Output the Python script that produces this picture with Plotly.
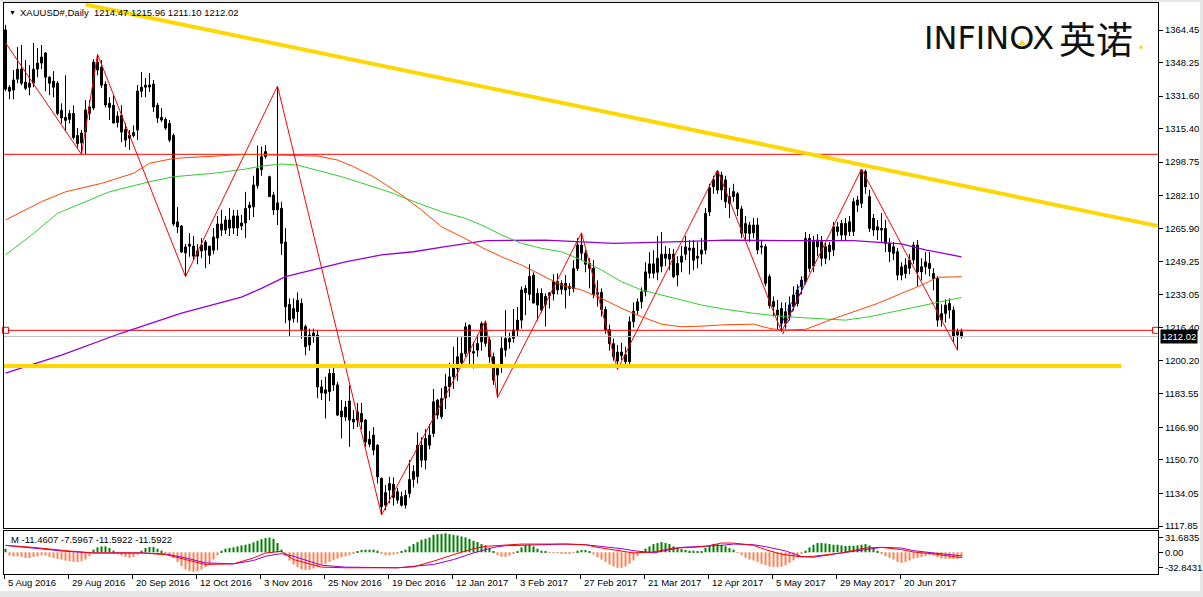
import plotly.graph_objects as go

# ---------------- data ----------------
tick_idx = [0, 16, 32, 48, 64, 80, 96, 112, 128, 144, 160, 176, 192, 208, 224]
tick_labels = ["5 Aug 2016", "29 Aug 2016", "20 Sep 2016", "12 Oct 2016", "3 Nov 2016",
               "25 Nov 2016", "19 Dec 2016", "12 Jan 2017", "3 Feb 2017", "27 Feb 2017",
               "21 Mar 2017", "12 Apr 2017", "5 May 2017", "29 May 2017", "20 Jun 2017"]
price_ticks = [1364.45, 1348.25, 1331.60, 1315.40, 1298.75, 1282.10, 1265.90, 1249.25,
               1233.05, 1216.40, 1200.20, 1183.55, 1166.90, 1150.70, 1134.05, 1117.85]
macd_ticks = [31.6835, 0.0, -32.8431]
macd_tick_text = ["31.6835", "0.00", "-32.8431"]

opens = [
    1364.5, 1336.0, 1334.6, 1340.0, 1345.0, 1338.5, 1336.0, 1338.0, 1345.0, 1348.0,
    1353.0, 1341.0, 1339.0, 1338.0, 1324.5, 1321.0, 1320.0, 1323.0, 1312.0, 1308.3,
    1313.7, 1323.0, 1325.7, 1348.5, 1346.0, 1337.5, 1328.0, 1327.0, 1318.5, 1322.0,
    1315.0, 1310.7, 1312.0, 1314.7, 1334.0, 1337.0, 1337.1, 1337.6, 1327.0, 1321.0,
    1320.0, 1318.0, 1312.0, 1269.0, 1267.0, 1253.6, 1257.0, 1257.0, 1252.0, 1254.6,
    1259.0, 1252.4, 1255.0, 1261.0, 1268.0, 1265.0, 1270.0, 1266.0, 1272.0, 1267.0,
    1268.5, 1276.0, 1276.5, 1287.0, 1295.0, 1301.5, 1291.5, 1282.4, 1275.0, 1275.8,
    1259.0, 1228.0, 1221.0, 1230.0, 1228.5, 1217.0, 1207.8, 1213.8, 1212.8, 1187.0,
    1185.5, 1184.6, 1193.7, 1188.0, 1175.0, 1172.0, 1180.0, 1171.0, 1170.5, 1173.8,
    1170.5, 1158.5, 1163.0, 1158.0, 1141.5, 1128.2, 1135.7, 1138.6, 1130.7, 1132.4,
    1128.2, 1134.0, 1141.0, 1142.4, 1158.0, 1150.6, 1158.0, 1163.8, 1180.4, 1172.2,
    1181.6, 1187.0, 1192.0, 1196.0, 1199.0, 1203.5, 1217.7, 1203.8, 1205.3, 1209.4,
    1218.6, 1210.3, 1202.0, 1192.9, 1197.0, 1205.3, 1211.1, 1211.1, 1215.3, 1220.2,
    1233.8, 1233.0, 1242.5, 1227.7, 1233.5, 1228.0, 1232.4, 1233.3, 1239.3, 1235.5,
    1238.5, 1237.0, 1235.8, 1245.8, 1257.5, 1253.5, 1248.5, 1246.0, 1233.0, 1234.0,
    1225.5, 1215.5, 1208.5, 1199.8, 1204.3, 1203.0, 1199.5, 1219.4, 1225.0, 1229.3,
    1234.3, 1243.5, 1248.2, 1244.0, 1247.0, 1253.0, 1250.5, 1253.0, 1242.6, 1249.0,
    1253.0, 1256.0, 1256.0, 1251.0, 1253.0, 1255.0, 1274.0, 1290.0, 1294.0, 1284.9,
    1289.9, 1281.6, 1281.6, 1283.0, 1275.5, 1263.5, 1267.5, 1263.6, 1267.5, 1257.0,
    1256.7, 1241.8, 1229.4, 1222.7, 1226.0, 1218.6, 1222.7, 1226.9, 1228.5, 1236.8,
    1239.3, 1260.8, 1247.1, 1256.6, 1250.9, 1250.9, 1257.5, 1255.1, 1264.2, 1268.3,
    1262.5, 1264.2, 1264.2, 1277.4, 1278.3, 1294.0, 1281.6, 1270.8, 1266.6, 1265.0,
    1265.8, 1258.3, 1253.4, 1254.2, 1242.6, 1243.4, 1246.0, 1250.1, 1257.5, 1246.7,
    1246.7, 1248.4, 1243.4, 1240.9, 1220.2, 1223.5, 1225.2, 1225.2, 1214.4, 1214.47]

highs = [
    1367.0, 1337.0, 1344.6, 1356.0, 1357.0, 1349.5, 1347.0, 1358.0, 1355.5, 1357.0,
    1353.5, 1341.5, 1344.0, 1339.0, 1328.0, 1342.0, 1324.7, 1327.0, 1315.7, 1314.7,
    1329.6, 1329.6, 1350.0, 1352.4, 1349.5, 1339.0, 1331.0, 1332.0, 1324.0, 1327.0,
    1318.0, 1314.7, 1317.0, 1337.1, 1343.6, 1340.6, 1343.0, 1339.6, 1328.2, 1325.7,
    1321.0, 1319.7, 1313.0, 1276.4, 1267.5, 1258.0, 1263.5, 1262.0, 1258.0, 1261.0,
    1260.0, 1257.0, 1266.0, 1272.0, 1275.0, 1272.0, 1276.0, 1275.0, 1275.0, 1272.5,
    1284.0, 1279.0, 1292.0, 1307.0, 1306.5, 1307.3, 1292.0, 1284.0, 1336.6, 1279.0,
    1266.0, 1231.0, 1231.0, 1234.0, 1231.0, 1218.0, 1216.0, 1216.0, 1215.0, 1190.5,
    1192.0, 1196.0, 1197.0, 1189.5, 1180.4, 1180.0, 1187.9, 1175.5, 1179.0, 1179.0,
    1171.0, 1165.0, 1167.0, 1158.5, 1142.0, 1138.2, 1142.3, 1142.0, 1136.8, 1134.9,
    1135.7, 1150.6, 1148.0, 1164.3, 1162.0, 1166.0, 1168.6, 1186.0, 1181.0, 1186.4,
    1193.5, 1199.0, 1207.0, 1211.7, 1211.7, 1219.0, 1218.0, 1209.4, 1213.0, 1219.5,
    1219.9, 1212.0, 1204.0, 1197.5, 1212.0, 1225.2, 1214.0, 1225.7, 1226.7, 1237.0,
    1237.6, 1248.0, 1244.0, 1236.0, 1236.0, 1233.5, 1234.0, 1243.0, 1243.4, 1240.0,
    1242.6, 1238.6, 1250.0, 1261.0, 1263.6, 1255.0, 1251.0, 1250.0, 1240.0, 1236.0,
    1227.0, 1218.0, 1211.0, 1207.8, 1209.0, 1207.0, 1222.0, 1229.0, 1231.0, 1236.5,
    1249.0, 1254.0, 1255.0, 1262.0, 1264.0, 1257.0, 1256.0, 1255.5, 1252.0, 1257.0,
    1262.0, 1260.0, 1260.0, 1259.0, 1261.0, 1276.0, 1288.0, 1292.0, 1294.8, 1294.0,
    1292.0, 1286.0, 1288.0, 1284.0, 1277.0, 1272.0, 1269.0, 1271.0, 1271.0, 1260.0,
    1258.0, 1243.0, 1232.0, 1230.2, 1229.0, 1229.0, 1232.0, 1237.0, 1238.0, 1242.0,
    1264.0, 1263.0, 1262.0, 1263.0, 1262.0, 1259.0, 1259.0, 1269.0, 1269.0, 1270.0,
    1271.0, 1272.0, 1281.0, 1282.0, 1295.3, 1295.0, 1285.0, 1273.0, 1270.0, 1273.5,
    1270.0, 1261.0, 1259.0, 1256.0, 1249.0, 1251.0, 1253.0, 1259.0, 1260.0, 1251.0,
    1254.0, 1254.0, 1246.0, 1242.0, 1228.0, 1230.5, 1231.0, 1227.0, 1216.0, 1215.96]

lows = [
    1334.0, 1330.0, 1330.0, 1338.0, 1337.0, 1334.6, 1332.0, 1336.0, 1341.0, 1345.0,
    1334.0, 1332.0, 1331.0, 1322.0, 1318.0, 1314.0, 1318.0, 1310.0, 1306.0, 1302.6,
    1302.8, 1319.7, 1324.7, 1342.0, 1335.6, 1326.0, 1319.7, 1318.0, 1316.0, 1308.7,
    1306.3, 1304.8, 1311.0, 1309.7, 1331.0, 1331.0, 1333.6, 1323.7, 1318.2, 1318.7,
    1314.7, 1308.7, 1267.0, 1263.5, 1253.6, 1241.8, 1251.7, 1250.0, 1248.0, 1251.0,
    1246.0, 1248.0, 1253.0, 1255.0, 1262.0, 1263.0, 1262.0, 1263.0, 1262.0, 1265.0,
    1261.0, 1270.0, 1271.5, 1285.6, 1292.0, 1300.5, 1281.5, 1272.5, 1267.5, 1252.6,
    1218.7, 1212.0, 1219.0, 1219.0, 1211.0, 1202.8, 1205.0, 1209.0, 1181.4, 1180.5,
    1171.3, 1180.0, 1185.0, 1172.5, 1161.4, 1170.0, 1157.2, 1166.0, 1167.0, 1166.0,
    1157.2, 1157.0, 1153.0, 1139.0, 1123.3, 1125.7, 1129.2, 1128.0, 1129.0, 1127.5,
    1126.5, 1132.0, 1137.0, 1139.0, 1147.0, 1146.0, 1156.0, 1162.0, 1171.0, 1171.0,
    1176.0, 1182.0, 1186.0, 1190.0, 1197.0, 1202.0, 1198.4, 1196.2, 1202.0, 1205.0,
    1207.0, 1199.0, 1188.0, 1181.7, 1194.0, 1202.0, 1206.0, 1209.0, 1212.0, 1216.0,
    1222.7, 1230.0, 1228.5, 1220.0, 1224.0, 1217.0, 1226.0, 1230.0, 1233.0, 1233.0,
    1226.0, 1232.3, 1234.0, 1244.6, 1250.0, 1244.0, 1236.0, 1231.0, 1227.0, 1222.0,
    1213.5, 1205.0, 1200.0, 1195.7, 1200.5, 1198.0, 1198.0, 1216.5, 1223.0, 1226.0,
    1232.0, 1241.0, 1241.0, 1240.0, 1244.0, 1247.0, 1245.0, 1241.0, 1237.0, 1244.0,
    1250.0, 1243.0, 1245.0, 1246.0, 1248.0, 1253.0, 1272.0, 1283.0, 1283.0, 1280.0,
    1276.0, 1271.0, 1279.0, 1272.0, 1261.0, 1260.0, 1259.0, 1261.0, 1253.0, 1253.0,
    1237.0, 1226.0, 1222.0, 1215.3, 1214.4, 1216.0, 1220.0, 1225.0, 1227.0, 1233.0,
    1238.0, 1244.0, 1244.0, 1252.0, 1247.0, 1248.0, 1250.0, 1252.0, 1262.0, 1260.0,
    1260.0, 1262.0, 1262.0, 1274.0, 1276.0, 1283.0, 1264.0, 1262.0, 1260.0, 1259.0,
    1254.0, 1249.0, 1250.0, 1240.0, 1240.0, 1241.0, 1243.0, 1248.0, 1237.0, 1240.0,
    1243.0, 1242.0, 1235.0, 1217.0, 1217.0, 1219.0, 1221.0, 1209.0, 1205.3, 1211.10]

closes = [
    1335.0, 1334.0, 1339.6, 1345.0, 1338.0, 1335.5, 1338.0, 1345.0, 1348.0, 1351.0,
    1341.0, 1338.0, 1336.0, 1323.0, 1320.7, 1319.5, 1323.0, 1311.0, 1308.0, 1313.2,
    1324.7, 1326.2, 1348.5, 1344.6, 1337.0, 1327.2, 1326.0, 1318.2, 1321.7, 1313.7,
    1309.7, 1312.2, 1313.5, 1334.1, 1336.0, 1336.0, 1336.1, 1326.2, 1320.7, 1319.7,
    1315.7, 1309.7, 1268.0, 1266.5, 1254.1, 1256.6, 1258.0, 1252.0, 1254.6, 1257.5,
    1255.0, 1257.0, 1261.5, 1268.0, 1265.0, 1270.0, 1266.0, 1272.0, 1266.0, 1268.5,
    1275.8, 1277.4, 1287.4, 1295.6, 1301.5, 1304.0, 1281.6, 1275.0, 1278.5, 1258.4,
    1226.9, 1220.2, 1226.0, 1224.4, 1215.3, 1207.0, 1212.8, 1212.0, 1187.0, 1184.0,
    1183.8, 1193.7, 1188.0, 1173.0, 1172.2, 1177.0, 1170.5, 1169.6, 1174.6, 1169.6,
    1159.7, 1161.0, 1155.6, 1142.3, 1127.4, 1134.5, 1139.0, 1132.0, 1134.9, 1128.2,
    1133.2, 1141.0, 1145.0, 1158.0, 1150.6, 1161.4, 1163.0, 1179.6, 1173.0, 1181.2,
    1187.1, 1192.0, 1196.3, 1202.0, 1203.7, 1216.9, 1204.5, 1204.6, 1208.6, 1218.5,
    1208.7, 1202.0, 1190.4, 1196.2, 1206.2, 1211.1, 1209.4, 1215.3, 1220.2, 1235.2,
    1236.0, 1242.0, 1228.7, 1233.5, 1225.2, 1232.0, 1233.8, 1239.3, 1235.2, 1238.5,
    1235.2, 1236.0, 1245.8, 1257.6, 1253.5, 1248.0, 1246.0, 1233.0, 1234.0, 1225.5,
    1215.5, 1208.5, 1202.0, 1204.3, 1202.5, 1199.5, 1219.4, 1224.6, 1229.3, 1234.3,
    1244.2, 1248.2, 1243.5, 1251.0, 1253.0, 1251.0, 1253.0, 1241.8, 1248.4, 1252.0,
    1256.6, 1255.0, 1250.0, 1252.0, 1255.0, 1273.3, 1286.0, 1286.5, 1284.9, 1292.3,
    1279.1, 1278.3, 1284.1, 1275.5, 1263.5, 1268.3, 1263.3, 1267.5, 1255.1, 1256.5,
    1238.5, 1227.5, 1227.0, 1225.2, 1218.6, 1224.4, 1227.7, 1232.7, 1235.2, 1240.1,
    1260.8, 1245.9, 1259.2, 1260.0, 1259.2, 1256.7, 1254.2, 1266.6, 1266.6, 1262.5,
    1268.3, 1269.1, 1279.1, 1279.9, 1294.8, 1286.5, 1265.8, 1265.0, 1265.0, 1265.8,
    1258.3, 1254.2, 1256.7, 1242.6, 1246.7, 1247.6, 1250.1, 1257.5, 1244.2, 1244.2,
    1249.2, 1245.9, 1240.9, 1220.2, 1223.5, 1227.7, 1228.5, 1212.0, 1212.8, 1212.02]

# moving averages (bar index, value)
ma_red_idx = [0, 9, 15, 24, 32, 36, 42, 49, 60, 78, 83, 87, 92, 99, 104, 109, 114, 120, 124,
              129, 134, 139, 144, 149, 154, 159, 164, 169, 174, 180, 187, 191, 194, 200, 206,
              212, 218, 224, 229, 233, 239]
ma_red_val = [1270.0, 1279.1, 1284.0, 1288.2, 1293.2, 1298.2, 1300.6, 1301.5, 1302.6, 1301.8,
              1299.8, 1296.5, 1291.5, 1282.4, 1274.9, 1266.6, 1261.7, 1255.4, 1251.7, 1247.6,
              1242.6, 1237.6, 1235.2, 1231.0, 1226.1, 1221.9, 1218.2, 1216.9, 1217.2, 1217.9,
              1218.2, 1216.1, 1215.3, 1215.6, 1220.2, 1224.4, 1228.5, 1233.5, 1237.6, 1241.5,
              1241.8]
ma_green_idx = [0, 7, 13, 19, 26, 36, 42, 52, 60, 64, 69, 73, 79, 84, 92, 97, 100, 109, 115,
                120, 124, 129, 134, 139, 144, 149, 154, 159, 164, 169, 174, 180, 187, 195, 204,
                210, 216, 224, 230, 239]
ma_green_val = [1252.6, 1263.3, 1273.3, 1278.3, 1284.0, 1289.0, 1291.5, 1293.2, 1295.3, 1296.8,
                1297.8, 1297.3, 1294.0, 1291.5, 1286.5, 1283.2, 1280.7, 1274.1, 1270.8, 1266.6,
                1262.5, 1258.4, 1255.9, 1254.2, 1250.1, 1245.1, 1239.3, 1235.2, 1232.7, 1230.2,
                1227.7, 1225.6, 1223.6, 1221.9, 1221.1, 1220.2, 1221.9, 1225.2, 1227.7, 1231.5]
ma_purple_idx = [0, 14, 29, 44, 59, 64, 70, 78, 85, 94, 102, 110, 120, 135, 152, 169, 180, 195,
                 212, 224, 230, 239]
ma_purple_val = [1193.9, 1202.8, 1213.8, 1223.7, 1231.7, 1236.0, 1241.8, 1245.9, 1249.2, 1252.6,
                 1254.2, 1256.7, 1259.7, 1260.0, 1258.4, 1259.2, 1260.0, 1259.7, 1259.7, 1258.1,
                 1255.1, 1251.7]

# zigzag pivots
zz_idx = [0, 19, 23, 45, 68, 94, 120, 123, 144, 153, 178, 194, 214, 238]
zz_val = [1358.1, 1302.6, 1352.4, 1241.8, 1336.6, 1123.3, 1219.9, 1181.7, 1263.6, 1195.7,
          1294.8, 1214.4, 1295.3, 1205.3]

# drawn levels / trend lines
level_red_top = 1302.65
level_red_mid = 1215.15
level_yellow = 1197.4
level_yellow_end = 279
bid_price = 1212.02
trend_idx = [20, 288]
trend_val = [1377.13, 1267.06]
blue_a_idx = [194.3, 200.1]
blue_a_val = [1213.3, 1240.0]
blue_b_idx = [193.6, 199.5]
blue_b_val = [1217.0, 1241.5]

# MACD-like indicator
macd_hist = [
    7.8, -7.1, -8.5, -8.5, -9.9, -12.1, -12.1, -9.9, -8.5, -6.4,
    -7.1, -9.9, -12.1, -14.2, -15.6, -17.7, -19.1, -20.6, -20.6, -19.1,
    -15.6, -8.5, 5.7, 10.6, 12.8, 12.8, 9.2, 3.5, -3.5, -7.1,
    -9.9, -12.1, -9.9, -5.0, 3.5, 9.2, 11.3, 11.3, 7.8, 3.5,
    -1.0, -6.4, -12.1, -20.6, -29.8, -36.9, -40.4, -41.8, -40.4, -36.9,
    -31.9, -24.8, -15.6, -6.4, 3.5, 7.8, 9.2, 10.6, 12.8, 14.9,
    16.3, 18.4, 21.3, 24.8, 28.4, 30.5, 31.7, 29.1, 19.9, 5.7,
    -8.5, -17.7, -26.2, -31.9, -36.2, -38.3, -37.6, -34.8, -31.9, -27.7,
    -24.8, -20.6, -17.0, -13.5, -10.6, -8.5, -6.4, -3.5, 2.1, 5.0,
    5.7, 5.7, 5.7, 3.5, -3.5, -6.4, -6.4, -5.0, -3.5, 2.0,
    5.7, 12.8, 17.7, 22.0, 27.0, 29.0, 32.0, 37.6, 39.0, 39.7,
    41.1, 39.0, 37.6, 36.2, 34.0, 32.0, 29.0, 24.8, 22.0, 17.7,
    14.9, 9.2, 2.1, -6.4, -9.9, -9.9, -7.1, -3.5, 2.1, 10.6,
    14.9, 16.3, 12.8, 7.8, 3.5, 0.7, -1.4, -1.4, -1.4, -2.8,
    -2.8, -2.8, -1.4, 3.5, 5.0, 5.0, 2.1, -5.0, -10.6, -15.6,
    -20.6, -26.2, -30.5, -33.3, -33.3, -30.5, -24.8, -17.7, -8.5, 0.7,
    7.8, 12.8, 17.7, 19.9, 22.0, 19.9, 17.7, 12.8, 9.2, 7.1,
    5.0, 3.5, 3.5, 2.1, 2.1, 9.2, 14.9, 17.7, 17.7, 16.3,
    12.8, 9.2, 5.7, -1.0, -6.4, -12.1, -15.6, -17.7, -20.6, -24.8,
    -27.7, -30.5, -31.9, -31.9, -31.0, -28.0, -22.7, -17.5, -10.0, -3.0,
    3.5, 10.6, 16.3, 19.9, 19.9, 19.1, 17.7, 16.3, 16.3, 14.9,
    13.5, 14.2, 14.2, 14.9, 16.3, 17.7, 14.9, 9.2, 3.5, -3.5,
    -8.5, -12.1, -15.6, -20.6, -22.7, -20.6, -17.7, -13.5, -12.1, -10.6,
    -8.5, -6.4, -6.4, -10.6, -13.5, -14.2, -14.2, -14.2, -14.2, -11.46]
macd_red_idx = [0, 7, 15, 22, 34, 40, 45, 50, 57, 62, 65, 69, 72, 79, 85, 98, 102, 107, 112,
                117, 120, 124, 129, 140, 145, 148, 154, 157, 162, 167, 172, 175, 179, 182, 187,
                190, 194, 199, 202, 209, 215, 219, 224, 227, 232, 239]
macd_red_val = [14.9, 10.6, 3.5, -1.4, -1.4, -5.0, -15.6, -26.2, -24.8, -12.1, -1.4, 2.1, -15.6,
                -31.9, -33.3, -33.3, -31.2, -19.1, -5.0, 7.8, 12.8, 14.9, 17.7, 17.7, 16.3, 10.6,
                2.1, -1.4, 0.7, 9.2, 10.6, 12.8, 19.9, 19.9, 14.9, 5.7, -4.0, -10.0, -8.5, -1.4,
                9.2, 10.6, 5.7, 0.7, -3.5, -11.59]
macd_purple_idx = [0, 7, 15, 22, 34, 40, 45, 50, 57, 62, 65, 69, 72, 79, 85, 98, 107, 112, 117,
                   122, 125, 134, 140, 145, 150, 154, 157, 162, 169, 174, 179, 182, 187, 190, 195,
                   199, 202, 209, 215, 219, 224, 227, 232, 239]
macd_purple_val = [14.9, 9.2, 2.1, -1.4, -1.4, -3.5, -12.1, -22.7, -24.8, -17.7, -8.5, -2.8, -8.5,
                   -27.7, -31.9, -33.3, -26.2, -15.6, -1.4, 10.6, 14.2, 16.3, 17.7, 16.3, 12.1, 7.8,
                   3.5, -1.4, 10.6, 12.1, 14.9, 17.7, 16.3, 12.1, 3.0, -9.0, -10.6, -1.4, 5.7, 10.6,
                   9.2, 3.5, -1.4, -7.6]

# ---------------- geometry helpers (pixel layout of the window) ----------------
W, H = 1203, 597
PL, PR, PT, PB = 4, 1158, 3, 574          # plotting region in pixels
MAIN_BOTTOM, SUB_TOP = 528, 531


def px_x(p):
    return (p - PL) / (PR - PL)


def px_y(p):
    return (PB - p) / (PB - PT)


FONT = "Liberation Sans, Arial, sans-serif"
n = len(closes)
idx = list(range(n))

fig = go.Figure()

# candle wicks
wx, wy = [], []
for i, (hh, ll) in enumerate(zip(highs, lows)):
    wx += [i, i, None]
    wy += [ll, hh, None]
fig.add_trace(go.Scatter(x=wx, y=wy, mode="lines", line=dict(color="black", width=1),
                         hoverinfo="skip", xaxis="x", yaxis="y"))
# candle bodies
body_base = [min(o, c) for o, c in zip(opens, closes)]
body_h = [max(abs(c - o), 0.08) for o, c in zip(opens, closes)]
body_col = ["white" if c >= o else "black" for o, c in zip(opens, closes)]
fig.add_trace(go.Bar(x=idx, y=body_h, base=body_base, width=0.5,
                     marker=dict(color=body_col, line=dict(color="black", width=1)),
                     hoverinfo="skip", xaxis="x", yaxis="y"))

xr = [-0.375, 288.125]
# horizontal levels
fig.add_trace(go.Scatter(x=[-1, 290], y=[bid_price, bid_price], mode="lines",
                         line=dict(color="#c0c0c0", width=1), xaxis="x", yaxis="y"))
fig.add_trace(go.Scatter(x=[-1, 290], y=[level_red_top, level_red_top], mode="lines",
                         line=dict(color="#ff0000", width=1), xaxis="x", yaxis="y"))
fig.add_trace(go.Scatter(x=[-1, 290], y=[level_red_mid, level_red_mid], mode="lines",
                         line=dict(color="#ff0000", width=1), xaxis="x", yaxis="y"))
fig.add_trace(go.Scatter(x=[0, 287.5], y=[level_red_mid, level_red_mid], mode="markers",
                         marker=dict(symbol="square", size=6, color="white",
                                     line=dict(color="#ff0000", width=1)),
                         cliponaxis=False, xaxis="x", yaxis="y"))

# moving averages
fig.add_trace(go.Scatter(x=ma_purple_idx, y=ma_purple_val, mode="lines",
                         line=dict(color="#9400d3", width=1.3), xaxis="x", yaxis="y"))
fig.add_trace(go.Scatter(x=ma_green_idx, y=ma_green_val, mode="lines",
                         line=dict(color="#32cd32", width=1), xaxis="x", yaxis="y"))
fig.add_trace(go.Scatter(x=ma_red_idx, y=ma_red_val, mode="lines",
                         line=dict(color="#ff4500", width=1), xaxis="x", yaxis="y"))
# zigzag
fig.add_trace(go.Scatter(x=zz_idx, y=zz_val, mode="lines",
                         line=dict(color="#ff0000", width=1), xaxis="x", yaxis="y"))
# blue channel lines
for bx, by in ((blue_a_idx, blue_a_val), (blue_b_idx, blue_b_val)):
    fig.add_trace(go.Scatter(x=bx, y=by, mode="lines",
                             line=dict(color="#0000ff", width=1, dash="dot"), xaxis="x", yaxis="y"))
# yellow lines
fig.add_trace(go.Scatter(x=[-1, level_yellow_end], y=[level_yellow, level_yellow], mode="lines",
                         line=dict(color="#ffd700", width=4), xaxis="x", yaxis="y"))
fig.add_trace(go.Scatter(x=trend_idx, y=trend_val, mode="lines",
                         line=dict(color="#ffd700", width=4), xaxis="x", yaxis="y"))

# indicator window
hist_col = ["#008000" if v >= 0 else "#ff7f50" for v in macd_hist]
fig.add_trace(go.Bar(x=idx, y=macd_hist, width=0.5, marker=dict(color=hist_col, line=dict(width=0)),
                     hoverinfo="skip", xaxis="x2", yaxis="y2"))
fig.add_trace(go.Scatter(x=macd_purple_idx, y=macd_purple_val, mode="lines",
                         line=dict(color="#9400d3", width=1), xaxis="x2", yaxis="y2"))
fig.add_trace(go.Scatter(x=macd_red_idx, y=macd_red_val, mode="lines",
                         line=dict(color="#ff0000", width=1), xaxis="x2", yaxis="y2"))

# y ranges derived from the window scale
scale = (526 - 30) / (price_ticks[0] - price_ticks[-1])       # px per price unit
y_top = price_ticks[0] + (30 - PT) / scale
y_bot = y_top - (MAIN_BOTTOM - PT) / scale
sub_scale = (567.3 - 537.3) / (macd_ticks[0] - macd_ticks[2])
sub_zero = 552.3
sub_top = (sub_zero - SUB_TOP) / sub_scale
sub_bot = -(PB - sub_zero) / sub_scale

axis_font = dict(family=FONT, size=9.5, color="black")
fig.update_layout(
    width=W, height=H,
    margin=dict(l=PL, r=W - PR, t=PT, b=H - PB, autoexpand=False),
    paper_bgcolor="white", plot_bgcolor="white",
    showlegend=False, barmode="overlay", hovermode=False,
    xaxis=dict(domain=[0, 1], range=xr, anchor="y", showticklabels=False, ticks="",
               showgrid=False, zeroline=False, showline=True, mirror=True,
               linecolor="black", linewidth=1, automargin=False),
    yaxis=dict(domain=[px_y(MAIN_BOTTOM), 1], range=[y_bot, y_top], side="right",
               tickvals=price_ticks, ticktext=[f"{v:.2f}" for v in price_ticks],
               ticks="outside", ticklen=4, tickcolor="black", tickfont=axis_font,
               showgrid=False, zeroline=False, showline=True, mirror=True,
               linecolor="black", linewidth=1, automargin=False),
    xaxis2=dict(domain=[0, 1], range=xr, anchor="y2", matches="x",
                tickvals=[t - 0.2 for t in tick_idx], showticklabels=False,
                ticks="outside", ticklen=4, tickcolor="black",
                showgrid=False, zeroline=False, showline=True, mirror=True,
                linecolor="black", linewidth=1, automargin=False),
    yaxis2=dict(domain=[0, px_y(SUB_TOP)], range=[sub_bot, sub_top], side="right",
                anchor="x2", tickvals=macd_ticks, ticktext=macd_tick_text,
                ticks="outside", ticklen=4, tickcolor="black", tickfont=axis_font,
                showgrid=False, zeroline=False, showline=True, mirror=True,
                linecolor="black", linewidth=1, automargin=False),
)

ann = []
for t, lab in zip(tick_idx, tick_labels):
    ann.append(dict(x=t - 0.2, xref="x2", y=px_y(582), yref="paper", text=lab,
                    showarrow=False, xanchor="left", yanchor="middle", xshift=1,
                    font=axis_font))
ann.append(dict(x=px_x(7), xref="paper", y=px_y(12), yref="paper", text="▼",
                showarrow=False, xanchor="left", yanchor="middle",
                font=dict(family=FONT, size=7, color="black")))
ann.append(dict(x=px_x(18), xref="paper", y=px_y(12), yref="paper",
                text="XAUUSD#,Daily  1214.47 1215.96 1211.10 1212.02",
                showarrow=False, xanchor="left", yanchor="middle", font=axis_font))
ann.append(dict(x=px_x(9), xref="paper", y=px_y(539), yref="paper",
                text="M -11.4607 -7.5967 -11.5922 -11.5922",
                showarrow=False, xanchor="left", yanchor="middle", font=axis_font))
ann.append(dict(x=1, xref="paper", y=bid_price, yref="y", text="1212.02",
                showarrow=False, xanchor="left", yanchor="middle", xshift=2,
                bgcolor="black", borderpad=1,
                font=dict(family=FONT, size=9.5, color="white")))
# logo
ann.append(dict(x=px_x(922), xref="paper", y=px_y(38), yref="paper",
                text="INFINOX", showarrow=False, xanchor="left", yanchor="middle",
                font=dict(family="DejaVu Sans, sans-serif", size=32, color="#111111")))
ann.append(dict(x=px_x(1057), xref="paper", y=px_y(38), yref="paper",
                text="英诺", showarrow=False, xanchor="left", yanchor="middle",
                font=dict(family="Noto Sans CJK SC, sans-serif", size=37, color="#111111")))
fig.update_layout(annotations=ann)

# small yellow accents of the logo (paper-space overlay axis)
fig.add_trace(go.Scatter(x=[px_x(1022), px_x(1141)], y=[px_y(47), px_y(51)], mode="markers",
                         marker=dict(symbol=["triangle-up", "circle"], size=[8, 4], color="#f5c400",
                                     line=dict(width=0)),
                         xaxis="x3", yaxis="y3", cliponaxis=False, hoverinfo="skip"))
fig.update_layout(
    xaxis3=dict(domain=[0, 1], range=[0, 1], visible=False, overlaying="x"),
    yaxis3=dict(domain=[0, 1], range=[0, 1], visible=False, overlaying="y"),
)

# window chrome (light grey frame around the chart window)
shapes = [
    dict(type="rect", xref="paper", yref="paper", x0=px_x(0), x1=px_x(W), y0=px_y(591), y1=px_y(H),
         fillcolor="#e6e6e6", line=dict(width=0), layer="below"),
    dict(type="rect", xref="paper", yref="paper", x0=px_x(1200), x1=px_x(W), y0=px_y(H), y1=px_y(0),
         fillcolor="#e6e6e6", line=dict(width=0), layer="below"),
    dict(type="rect", xref="paper", yref="paper", x0=px_x(0), x1=px_x(W), y0=px_y(2), y1=px_y(0),
         fillcolor="#e6e6e6", line=dict(width=0), layer="below"),
]
fig.update_layout(shapes=shapes)

fig.write_html("out.html", config={"displayModeBar": False},
               post_script="document.body.style.margin='0';document.body.style.overflow='hidden';")
